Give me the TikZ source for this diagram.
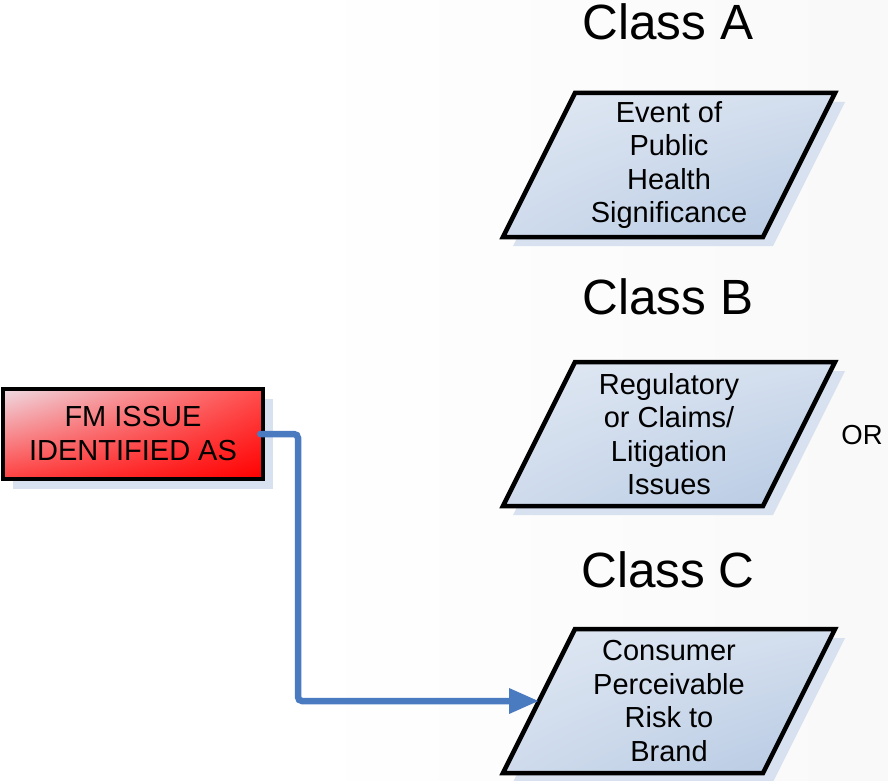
\documentclass[tikz,border=0pt]{standalone}
\usepackage{fontspec}
\setmainfont{Liberation Sans}
\usetikzlibrary{arrows.meta,calc,shadings}
\definecolor{pgtop}{HTML}{E0E8F3}
\definecolor{pgbot}{HTML}{B5C8E2}
\definecolor{shadowblue}{HTML}{D8E1EF}
\definecolor{connblue}{HTML}{4A7BC0}
\definecolor{pinkish}{HTML}{EEDCE4}
\tikzset{
  x=1pt, y=-1pt,
  classlabel/.style={font=\fontsize{49.5}{56}\selectfont, anchor=base},
  boxtext/.style={font=\fontsize{29}{33.5}\selectfont, align=center, inner sep=0pt},
  outline/.style={draw=black, line width=4.5pt, line join=miter},
  conn/.style={draw=connblue, line width=6.5pt, rounded corners=4pt, line cap=round,
               -{Triangle[length=30pt,width=24pt]}},
}
% parallelogram: top-left corner (#1,#2), top width 260, height 144, slant 72
\newcommand{\pgram}[3]{%
  \fill[shadowblue] (#1+10,#2+9) -- ++(260,0) -- ++(-72,144) -- ++(-260,0) -- cycle;
  \shade[upper left=pgtop, upper right=pgtop!70!pgbot, lower left=pgtop!60!pgbot, lower right=pgbot]
    (#1,#2) -- ++(260,0) -- ++(-72,144) -- ++(-260,0) -- cycle;
  \draw[outline] (#1,#2) coordinate (#3tl) -- ++(260,0) coordinate (#3tr)
     -- ++(-72,144) coordinate (#3br) -- ++(-260,0) coordinate (#3bl) -- cycle;
}
\begin{document}
\begin{tikzpicture}
\useasboundingbox (0,0) rectangle (888,781);
% faint backdrop haze on the right
\shade[left color=white, right color=gray!5] (300,0) rectangle (888,781);

% class labels
\node[classlabel] (clA) at (668,40) {Class A};
\node[classlabel] (clB) at (668,314) {Class B};
\node[classlabel] (clC) at (668,587) {Class C};

% class boxes
\pgram{575}{93}{pa}
\node[boxtext] (pa) at (669,165) {Event of\\Public\\Health\\Significance};
\pgram{575}{362}{pb}
\node[boxtext] (pb) at (669,434) {Regulatory\\or Claims/\\Litigation\\Issues};
\pgram{575}{629}{pc}
\node[boxtext] (pc) at (669,701) {Consumer\\Perceivable\\Risk to\\Brand};

\node[font=\fontsize{27.5}{30}\selectfont] (or) at (862,435) {OR};

% issue box
\fill[shadowblue] (13,399) rectangle (273,489);
\shade[upper left=pinkish, upper right=red!70!white, lower left=red!75!white, lower right=red]
  (3,389) rectangle (263,479);
\draw[outline] (3,389) rectangle (263,479);
\node[font=\fontsize{29}{34}\selectfont, align=center, minimum width=260pt,
      minimum height=90pt, inner sep=0pt] (fm) at (133,434) {FM ISSUE\\IDENTIFIED AS};

% connector
\coordinate (cin) at ($(pctl)!0.5!(pcbl)$);
\draw[conn] ($(fm.east)+(-3,0)$) -- (298,434) -- (298,701) -- (cin);
\end{tikzpicture}
\end{document}
